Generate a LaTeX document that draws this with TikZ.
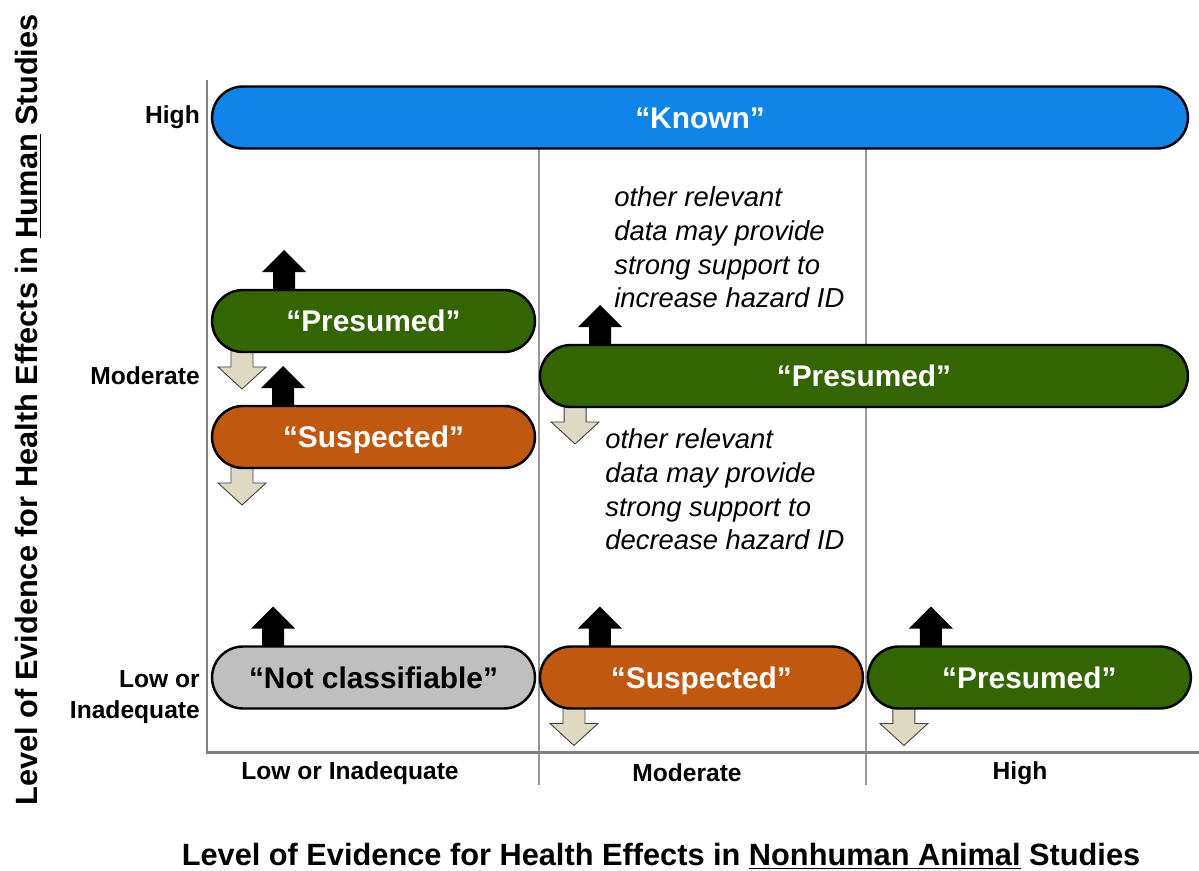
\documentclass[tikz,border=0pt]{standalone}
\usepackage{fontspec}
\setmainfont{Liberation Sans}
\usetikzlibrary{positioning,backgrounds,calc}
\definecolor{knownblue}{RGB}{16,132,232}
\definecolor{presgreen}{RGB}{51,102,0}
\definecolor{suspor}{RGB}{192,88,16}
\definecolor{notcgray}{RGB}{191,191,191}
\definecolor{downtan}{RGB}{221,217,195}
\tikzset{
    bar/.style = {draw, line width=1.4pt, rectangle, rounded corners=0.62cm,
        minimum height=1.24cm, outer sep=0pt, text=white,
        text height=12.2pt, text depth=0pt,
        font=\fontsize{17}{20}\selectfont\bfseries},
    axis/.style = {draw=gray, line width=1.7pt},
    gridline/.style = {draw=gray!80, line width=0.6pt},
    lab/.style = {font=\fontsize{14}{18}\selectfont\bfseries},
    title/.style = {inner sep=0pt, font=\fontsize{17.5}{20}\selectfont\bfseries},
    note/.style = {align=left, inner sep=0pt,
        font=\fontsize{15.6}{19.3}\selectfont\itshape},
    uparr/.style = {fill=black},
    downarr/.style = {fill=downtan, draw=black!75, line width=0.5pt}
}
\def\arrup{%
    ++(-11,0) -- ++(0,-22) -- ++(-11,0) -- ++(22,-22) -- ++(22,22) -- ++(-11,0) -- ++(0,22) -- cycle
}
\def\arrdown{%
    ++(-11,0) -- ++(0,19) -- ++(-13,0) -- ++(24,22) -- ++(24,-22) -- ++(-13,0) -- ++(0,-19) -- cycle
}
\begin{document}
\begin{tikzpicture}[x=0.02cm, y=-0.02cm]
    \useasboundingbox (0,0) rectangle (1199,871);
    % axes and column lines
    \coordinate (orig) at (207,752);
    \coordinate (ytop) at (207,80);
    \coordinate (xend) at (1199,752);
    \draw[gridline] (539,149) -- (539,785);
    \draw[gridline] (866,149) -- (866,785);
    \draw[axis] (ytop) -- (orig) -- (xend);
    % categories
    \node[bar, fill=knownblue, minimum width=19.52cm] (known) at (700,117.5) {“Known”};
    \node[bar, fill=presgreen, minimum width=6.46cm] (presl) at (373.5,321) {“Presumed”};
    \node[bar, fill=suspor, minimum width=6.46cm] (suspl) at (373.5,437) {“Suspected”};
    \node[bar, fill=presgreen, minimum width=12.96cm] (presm) at (864,376) {“Presumed”};
    \node[bar, fill=notcgray, text=black, minimum width=6.46cm] (notcl) at (373.5,677.5) {“Not classifiable”};
    \node[bar, fill=suspor, minimum width=6.46cm, right=0.1cm of notcl] (suspb) {“Suspected”};
    \node[bar, fill=presgreen, minimum width=6.46cm, right=0.1cm of suspb] (presb) {“Presumed”};
    % up / down arrows
    \begin{pgfonlayer}{background}
        \fill[uparr] ($(presl.north west)+(72,4)$) \arrup;
        \draw[downarr] ($(presl.south west)+(30,-4)$) \arrdown;
        \fill[uparr] ($(suspl.north west)+(71,4)$) \arrup;
        \draw[downarr] ($(suspl.south west)+(30,-4)$) \arrdown;
        \fill[uparr] ($(presm.north west)+(60,4)$) \arrup;
        \draw[downarr] ($(presm.south west)+(35,-4)$) \arrdown;
        \fill[uparr] ($(notcl.north west)+(61,4)$) \arrup;
        \fill[uparr] ($(suspb.north west)+(60,4)$) \arrup;
        \draw[downarr] ($(suspb.south west)+(34,-4)$) \arrdown;
        \fill[uparr] ($(presb.north west)+(63,4)$) \arrup;
        \draw[downarr] ($(presb.south west)+(36,-4)$) \arrdown;
    \end{pgfonlayer}
    % notes
    \node[note, anchor=north west] (noteup) at (614,186) {other relevant\\data may provide\\strong support to\\increase hazard ID};
    \node[note, anchor=north west] (notedown) at (605,428) {other relevant\\data may provide\\strong support to\\decrease hazard ID};
    % axis labels
    \node[lab, anchor=east] (yhigh) at (206,117) {High};
    \node[lab, anchor=east] (ymod) at (206,376) {Moderate};
    \node[lab, anchor=east, align=right] (ylow) at (206,697) {Low or\\Inadequate};
    \node[lab] (xlow) at (350,773) {Low or Inadequate};
    \node[lab] (xmod) at (687,773) {Moderate};
    \node[lab] (xhigh) at (1020,773) {High};
    \node[title, rotate=90] (ytitle) at (28,410) {Level of Evidence for Health Effects in \underline{Human} Studies};
    \node[title] (xtitle) at (661,856) {Level of Evidence for Health Effects in \underline{Nonhuman Animal} Studies};
\end{tikzpicture}
\end{document}
